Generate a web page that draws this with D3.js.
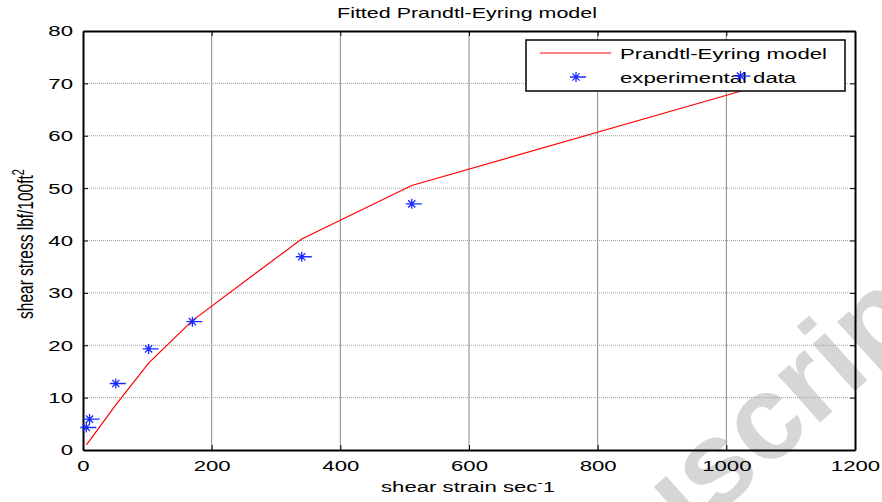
<!DOCTYPE html>
<html>
<head>
<meta charset="utf-8">
<script src="https://cdn.jsdelivr.net/npm/d3@7"></script>
<style>
  body { margin: 0; background: #fff; }
  svg { display: block; font-family: "Liberation Sans", Arial, sans-serif; }
</style>
</head>
<body>
<div id="chart"></div>
<script>
// data
var shearRate = [5.1, 10.2, 51, 102, 170, 340, 511, 1022];
var measured  = [4.3, 5.9, 12.7, 19.3, 24.5, 36.9, 47.0, 71.4];
var fitted    = [1.0, 1.8, 8.6, 16.6, 24.7, 40.3, 50.5, 68.5];
var xTicks = [0, 200, 400, 600, 800, 1000, 1200];
var yTicks = [0, 10, 20, 30, 40, 50, 60, 70, 80];

var width = 882, height = 502;
var stretch = 1.43;   // the original picture was widened

var svg = d3.select("#chart").append("svg")
    .attr("width", width)
    .attr("height", height);

var x = d3.scaleLinear().domain([0, 1200]).range([83, 855]);
var y = d3.scaleLinear().domain([0, 80]).range([450, 31]);

// widen text horizontally like the source
function widen(sel) {
  sel.each(function() {
    var w = this.getComputedTextLength();
    d3.select(this).attr("textLength", w * stretch).attr("lengthAdjust", "spacingAndGlyphs");
  });
}

// watermark
svg.append("text")
    .attr("transform", "translate(482,727) rotate(-42)")
    .attr("font-size", 120)
    .attr("font-weight", "bold")
    .attr("fill", "#d6d6d6")
    .text("Manuscript");

// grid
svg.append("g").selectAll("line")
  .data(xTicks.slice(1, -1))
  .join("line")
    .attr("x1", d => x(d)).attr("x2", d => x(d))
    .attr("y1", y(80)).attr("y2", y(0))
    .attr("stroke", "#8a8a8a");

svg.append("g").selectAll("line")
  .data(yTicks.slice(1, -1))
  .join("line")
    .attr("x1", x(0)).attr("x2", x(1200))
    .attr("y1", d => y(d)).attr("y2", d => y(d))
    .attr("stroke", "#a0a0a0")
    .attr("stroke-dasharray", "1,1");

// axes
var fmt = d3.format("d");
var xAxis = svg.append("g")
    .attr("transform", "translate(0," + y(0) + ")")
    .call(d3.axisBottom(x).tickValues(xTicks).tickFormat(fmt).tickSizeInner(-5).tickSizeOuter(0).tickPadding(10));
var yAxis = svg.append("g")
    .attr("transform", "translate(" + x(0) + ",0)")
    .call(d3.axisLeft(y).tickValues(yTicks).tickFormat(fmt).tickSizeInner(-5).tickSizeOuter(0).tickPadding(10));
svg.append("g")
    .attr("transform", "translate(0," + y(80) + ")")
    .call(d3.axisTop(x).tickValues(xTicks).tickSizeInner(-5).tickSizeOuter(0).tickFormat(""));
svg.append("g")
    .attr("transform", "translate(" + x(1200) + ",0)")
    .call(d3.axisRight(y).tickValues(yTicks).tickSizeInner(-5).tickSizeOuter(0).tickFormat(""));

svg.selectAll(".domain").attr("stroke", "#000").attr("stroke-width", 2);
svg.selectAll(".tick line").attr("stroke", "#000");
xAxis.selectAll("text").attr("font-size", 15.5).attr("fill", "#000").attr("font-family", null).call(widen);
yAxis.selectAll("text").attr("font-size", 15.5).attr("fill", "#000").attr("font-family", null).call(widen);

// fitted model line
var line = d3.line().x((d, i) => x(shearRate[i])).y(d => y(d));
svg.append("path")
    .datum(fitted)
    .attr("d", line)
    .attr("fill", "none")
    .attr("stroke", "#ff0000")
    .attr("stroke-width", 1.2);

// legend
var lg = svg.append("g");
lg.append("rect")
    .attr("x", 526).attr("y", 40).attr("width", 319).attr("height", 51)
    .attr("fill", "#fff").attr("stroke", "#000").attr("stroke-width", 1.5);
lg.append("line")
    .attr("x1", 540).attr("x2", 611).attr("y1", 53).attr("y2", 53)
    .attr("stroke", "#ff0000");
lg.append("text").attr("x", 620).attr("y", 59).attr("font-size", 15.5)
    .text("Prandtl-Eyring model").call(widen);
lg.append("text").attr("x", 620).attr("y", 83).attr("font-size", 15.5)
    .text("experimental data").call(widen);

// star marker with dash
function star(g) {
  var r = 5;
  g.append("path")
    .attr("d", "M0,-" + r + "V" + r +
               "M-3.6,-3.6L3.6,3.6M-3.6,3.6L3.6,-3.6" +
               "M-6,0H10")
    .attr("stroke", "#1a2bff")
    .attr("stroke-width", 1.3)
    .attr("fill", "none");
}
star(lg.append("g").attr("transform", "translate(576,77)"));

svg.append("g").selectAll("g")
  .data(measured)
  .join("g")
    .attr("transform", (d, i) => "translate(" + x(shearRate[i]) + "," + y(d) + ")")
    .each(function() { star(d3.select(this)); });

// labels
svg.append("text")
    .attr("x", 467).attr("y", 18)
    .attr("text-anchor", "middle")
    .attr("font-size", 15)
    .text("Fitted Prandtl-Eyring model").call(widen);

var xl = svg.append("text")
    .attr("x", 468).attr("y", 492)
    .attr("text-anchor", "middle")
    .attr("font-size", 15.5);
xl.append("tspan").text("shear strain sec");
xl.append("tspan").attr("dy", -6).attr("font-size", 11).text("-");
xl.append("tspan").attr("dy", 6).text("1");
xl.call(widen);

var yl = svg.append("text")
    .attr("transform", "translate(33,244) scale(" + stretch + ",1) rotate(-90)")
    .attr("text-anchor", "middle")
    .attr("font-size", 15.5);
yl.append("tspan").text("shear stress lbf/100ft");
yl.append("tspan").attr("dy", -6).attr("font-size", 11).text("2");
</script>
</body>
</html>
